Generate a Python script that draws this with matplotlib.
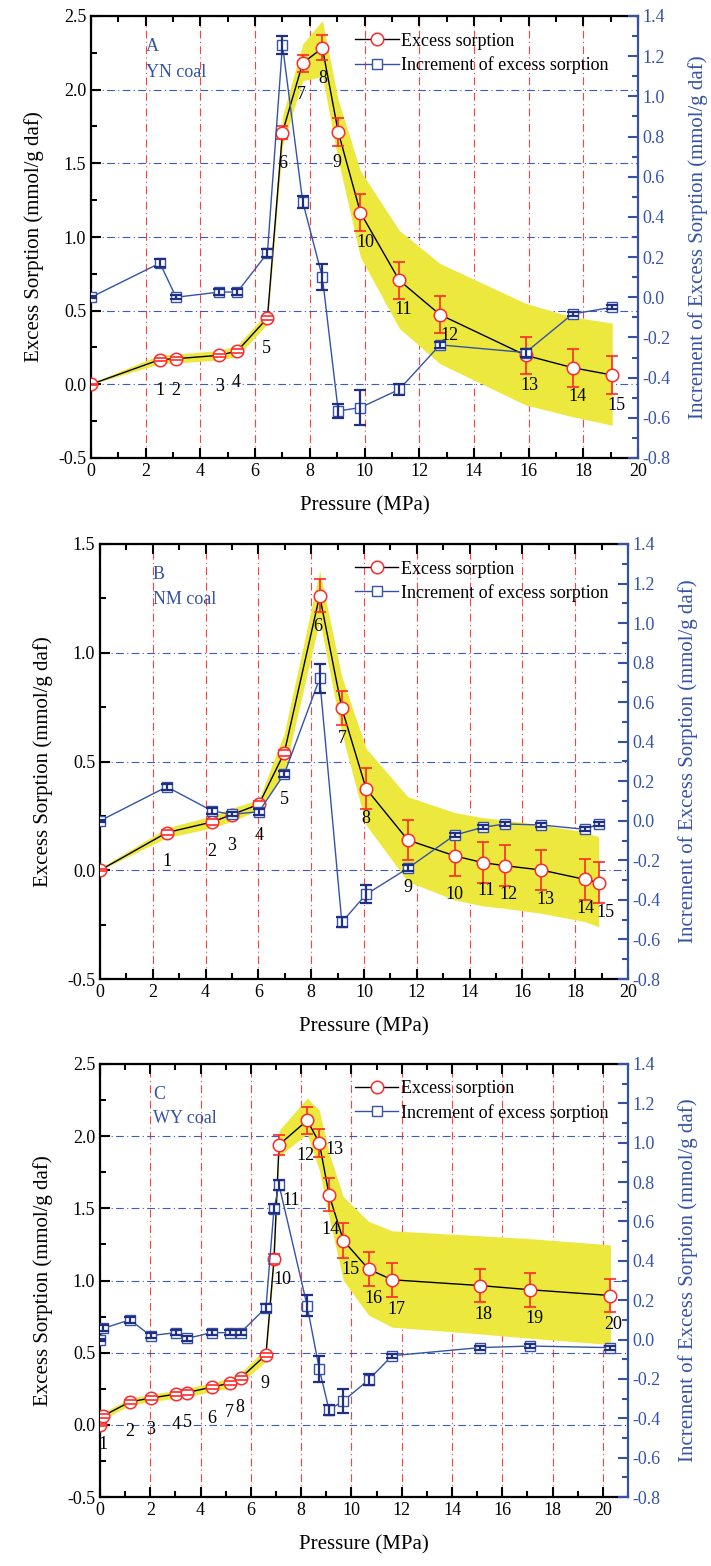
import numpy as np
import matplotlib
matplotlib.use("Agg")
import matplotlib.pyplot as plt
from matplotlib.ticker import MultipleLocator, FormatStrFormatter

plt.rcParams['font.family'] = ['Liberation Serif', 'DejaVu Serif']
plt.rcParams['axes.unicode_minus'] = False

# ---- data ----
# panel A, YN coal
pA = [0, 2.52, 3.11, 4.69, 5.35, 6.45, 7.0, 7.74, 8.46, 9.04, 9.85, 11.27, 12.76, 15.89, 17.61, 19.06]
excA = [0, 0.168, 0.174, 0.197, 0.226, 0.45, 1.709, 2.18, 2.283, 1.713, 1.166, 0.706, 0.473, 0.197, 0.113, 0.063]
excA_err = [0.005, 0.012, 0.012, 0.012, 0.012, 0.012, 0.043, 0.057, 0.085, 0.094, 0.126, 0.127, 0.127, 0.127, 0.13, 0.127]
incA = [0, 0.17, 0.0, 0.026, 0.026, 0.22, 1.256, 0.476, 0.10, -0.566, -0.549, -0.459, -0.237, -0.275, -0.083, -0.05]
incA_err = [0.005, 0.02, 0.01, 0.015, 0.015, 0.022, 0.044, 0.03, 0.066, 0.033, 0.088, 0.025, 0.015, 0.02, 0.01, 0.01]
bandA_lo = [0, 0.14, 0.145, 0.165, 0.19, 0.41, 1.62, 2.06, 2.09, 1.52, 0.864, 0.38, 0.14, -0.14, -0.22, -0.278]
bandA_hi = [0.01, 0.20, 0.205, 0.23, 0.265, 0.49, 1.82, 2.31, 2.47, 1.93, 1.45, 1.045, 0.82, 0.55, 0.457, 0.416]

# panel B, NM coal
pB = [0, 2.53, 4.25, 5.0, 6.02, 6.98, 8.32, 9.16, 10.08, 11.66, 13.44, 14.5, 15.33, 16.72, 18.36, 18.89]
excB = [0, 0.173, 0.222, 0.256, 0.303, 0.54, 1.262, 0.745, 0.375, 0.139, 0.066, 0.035, 0.021, 0.001, -0.042, -0.057]
excB_err = [0.005, 0.012, 0.012, 0.012, 0.015, 0.015, 0.075, 0.079, 0.094, 0.09, 0.093, 0.093, 0.094, 0.094, 0.093, 0.094]
incB = [0, 0.172, 0.05, 0.033, 0.046, 0.237, 0.72, -0.513, -0.372, -0.24, -0.072, -0.033, -0.016, -0.021, -0.043, -0.016]
incB_err = [0.005, 0.015, 0.015, 0.01, 0.015, 0.015, 0.074, 0.025, 0.046, 0.015, 0.012, 0.01, 0.01, 0.01, 0.01, 0.01]
bandB_lo = [0, 0.15, 0.195, 0.225, 0.277, 0.45, 1.15, 0.63, 0.208, -0.052, -0.137, -0.164, -0.175, -0.198, -0.236, -0.26]
bandB_hi = [0.01, 0.195, 0.25, 0.285, 0.326, 0.63, 1.377, 0.89, 0.56, 0.338, 0.265, 0.242, 0.231, 0.208, 0.177, 0.154]

# panel C, WY coal
pC = [0, 0.13, 1.19, 2.01, 3.02, 3.47, 4.44, 5.17, 5.59, 6.60, 6.92, 7.12, 8.24, 8.72, 9.11, 9.68, 10.68, 11.62, 15.11, 17.1, 20.3]
excC = [0, 0.062, 0.159, 0.185, 0.213, 0.224, 0.261, 0.289, 0.324, 0.485, 1.148, 1.94, 2.109, 1.956, 1.594, 1.277, 1.079, 1.005, 0.965, 0.936, 0.896]
excC_err = [0.005, 0.015, 0.015, 0.015, 0.015, 0.015, 0.015, 0.015, 0.015, 0.015, 0.036, 0.069, 0.095, 0.097, 0.113, 0.119, 0.119, 0.118, 0.117, 0.118, 0.115]
incC = [0, 0.057, 0.10, 0.02, 0.035, 0.006, 0.035, 0.035, 0.035, 0.162, 0.664, 0.786, 0.171, -0.149, -0.357, -0.312, -0.205, -0.082, -0.041, -0.033, -0.041]
incC_err = [0.005, 0.015, 0.015, 0.012, 0.012, 0.012, 0.012, 0.012, 0.012, 0.02, 0.023, 0.025, 0.053, 0.065, 0.025, 0.061, 0.028, 0.01, 0.01, 0.01, 0.01]
bandC_lo = [0, 0.04, 0.135, 0.16, 0.185, 0.195, 0.23, 0.255, 0.29, 0.44, 1.10, 1.86, 2.017, 1.765, 1.44, 1.0, 0.76, 0.677, 0.63, 0.60, 0.557]
bandC_hi = [0.01, 0.085, 0.185, 0.21, 0.24, 0.255, 0.29, 0.325, 0.36, 0.53, 1.20, 2.04, 2.264, 2.18, 1.885, 1.58, 1.41, 1.344, 1.31, 1.29, 1.247]

# point number label offsets (pixels), one per numbered point
offA = [(0, -31), (0, -32), (0, -31), (-1, -31), (-1, -30), (0, -31), (-1, -31), (0, -31), (-1, -31),
        (5, -30), (4, -29), (9, -21), (4, -30), (5, -29), (4, -30)]
offB = [(0, -29), (0, -30), (0, -31), (0, -31), (0, -47), (-2, -31), (0, -30), (0, -30), (0, -47),
        (0, -39), (3, -28), (4, -29), (4, -29), (1, -29), (7, -30)]
offC = [(0, -29), (0, -30), (0, -31), (0, -30), (0, -30), (0, -31), (-1, -29), (-1, -29), (-1, -29),
        (8, -20), (12, -56), (-2, -35), (15, -7), (1, -35), (7, -29), (5, -29), (4, -30), (3, -29),
        (5, -29), (3, -29)]

BLUE = '#3553a6'
NAVY = '#1f2f86'
RED = '#ff2a2a'
YELLOW = '#ede83e'

fig = plt.figure(figsize=(7.11, 15.66), dpi=100)


def draw_panel(rect, p, exc, exc_err, inc, inc_err, lo, hi, ylim, xmax, letter, coal, offs):
    ax = fig.add_axes(rect)
    ax.set_xlim(0, xmax)
    ax.set_ylim(*ylim)

    ax.fill_between(p, lo, hi, color=YELLOW, lw=0, zorder=1)
    ax.plot(p, exc, color='black', lw=1, zorder=3)
    eb = ax.errorbar(p, exc, yerr=exc_err, fmt='none', ecolor=RED, elinewidth=1.2,
                     capsize=4, capthick=1.2, zorder=3.5)
    ax.plot(p, exc, ls='none', marker='o', ms=9, mfc='white', mec=RED, mew=1.1, zorder=4)
    for c in eb[1]:
        c.set_zorder(5)
    h1, = ax.plot([], [], color='black', lw=1, marker='o', ms=9, mfc='white', mec=RED, mew=1.1)

    for i, (dx, dy) in enumerate(offs):
        ax.annotate(str(i + 1), (p[i + 1], exc[i + 1]), xytext=(dx, dy), textcoords='offset pixels',
                    ha='center', va='center', fontsize=13, zorder=6)

    ax.xaxis.set_major_locator(MultipleLocator(2))
    ax.xaxis.set_minor_locator(MultipleLocator(1))
    ax.yaxis.set_major_locator(MultipleLocator(0.5))
    ax.yaxis.set_minor_locator(MultipleLocator(0.25))
    ax.yaxis.set_major_formatter(FormatStrFormatter('%.1f'))
    ax.xaxis.grid(True, which='major', color='#ff4040', ls=(0, (7, 3, 1, 3)), lw=0.8, zorder=0)
    ax.yaxis.grid(True, which='major', color='#3a5cc0', ls=(0, (7, 3, 1, 3)), lw=0.8, zorder=0)
    ax.set_axisbelow(True)
    ax.tick_params(which='both', direction='in', top=True, right=False, width=1.5, labelsize=13)
    ax.tick_params(which='major', length=7)
    ax.tick_params(which='minor', length=4)
    for s in ['left', 'bottom', 'top']:
        ax.spines[s].set_linewidth(1.6)
    ax.spines['right'].set_visible(False)
    ax.set_xlabel('Pressure (MPa)', fontsize=15, labelpad=12)
    ax.set_ylabel('Excess Sorption (mmol/g daf)', fontsize=15, labelpad=10)

    ax2 = ax.twinx()
    ax2.set_ylim(-0.8, 1.4)
    ax2.plot(p, inc, color=BLUE, lw=1, marker='s', ms=7, mfc='white', mec=BLUE, mew=1, zorder=3)
    ax2.errorbar(p, inc, yerr=inc_err, fmt='none', ecolor=NAVY, elinewidth=1.6,
                 capsize=4, capthick=1.6, zorder=4)
    h2, = ax2.plot([], [], color=BLUE, lw=1, marker='s', ms=7, mfc='white', mec=BLUE, mew=1)
    ax2.yaxis.set_major_locator(MultipleLocator(0.2))
    ax2.yaxis.set_minor_locator(MultipleLocator(0.1))
    ax2.yaxis.set_major_formatter(FormatStrFormatter('%.1f'))
    ax2.tick_params(which='both', direction='in', colors=BLUE, width=1.5, labelsize=13)
    ax2.tick_params(which='major', length=7)
    ax2.tick_params(which='minor', length=4)
    for s in ['left', 'bottom', 'top']:
        ax2.spines[s].set_visible(False)
    ax2.spines['right'].set_color(BLUE)
    ax2.spines['right'].set_linewidth(1.6)
    ax2.set_ylabel('Increment of Excess Sorption (mmol/g daf)', color=BLUE, fontsize=15, labelpad=12)

    ax2.text(0.1, 0.93, letter, transform=ax.transAxes, color=BLUE, fontsize=13, ha='left', va='center')
    ax2.text(0.1, 0.873, coal, transform=ax.transAxes, color=BLUE, fontsize=13, ha='left', va='center')
    ax2.legend([h1, h2], ['Excess sorption', 'Increment of excess sorption'], loc='upper left',
               bbox_to_anchor=(0.483, 0.962), frameon=False, fontsize=13, borderpad=0,
               borderaxespad=0, handlelength=2.4, handletextpad=0.15, labelspacing=0.35)
    return ax, ax2


draw_panel([91 / 711, 1 - 458 / 1566, 547 / 711, 442 / 1566], pA, excA, excA_err, incA, incA_err,
           bandA_lo, bandA_hi, (-0.5, 2.5), 20, 'A', 'YN coal', offA)
draw_panel([100 / 711, 1 - 979 / 1566, 528 / 711, 435 / 1566], pB, excB, excB_err, incB, incB_err,
           bandB_lo, bandB_hi, (-0.5, 1.5), 20, 'B', 'NM coal', offB)
draw_panel([100 / 711, 1 - 1497 / 1566, 528 / 711, 433 / 1566], pC, excC, excC_err, incC, incC_err,
           bandC_lo, bandC_hi, (-0.5, 2.5), 21, 'C', 'WY coal', offC)

fig.savefig('out.png', dpi=100)
